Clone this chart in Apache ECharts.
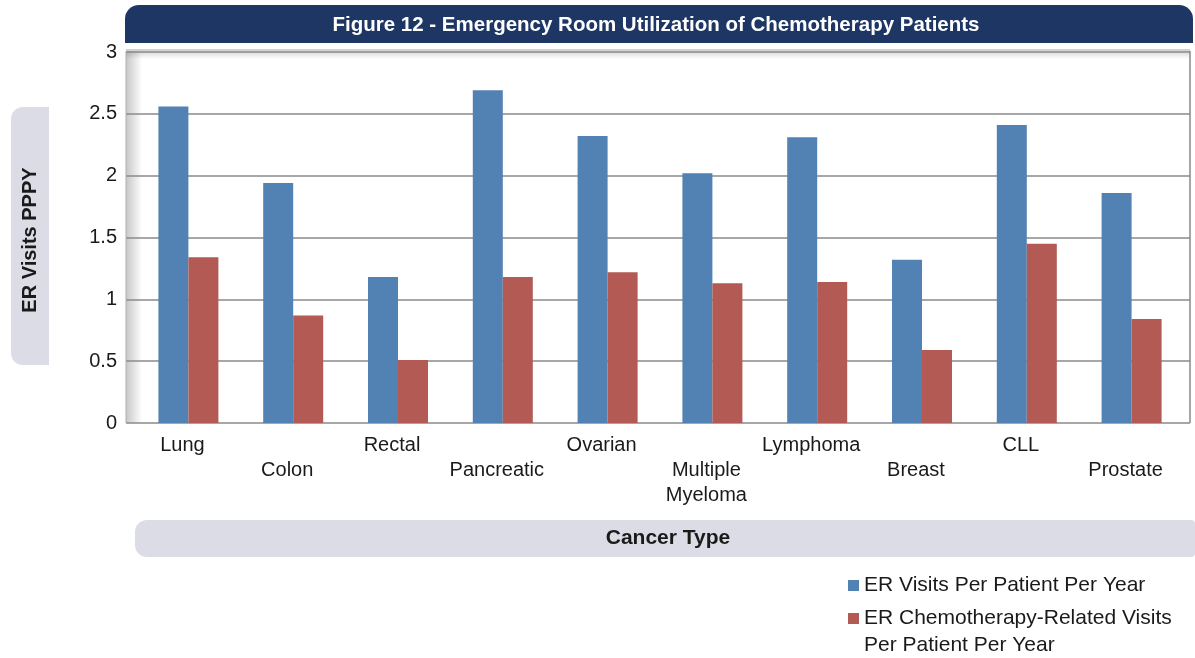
<!DOCTYPE html>
<html>
<head>
<meta charset="utf-8">
<script src="https://cdn.jsdelivr.net/npm/echarts@6/dist/echarts.min.js"></script>
<style>
  html, body { margin: 0; padding: 0; background: #fff; }
  #chart { width: 1195px; height: 658px; }
</style>
</head>
<body>
<div id="chart"></div>
<script>
const categories = ['Lung', 'Colon', 'Rectal', 'Pancreatic', 'Ovarian', 'Multiple Myeloma', 'Lymphoma', 'Breast', 'CLL', 'Prostate'];
const erVisits = [2.56, 1.94, 1.18, 2.69, 2.32, 2.02, 2.31, 1.32, 2.41, 1.86];
const chemoVisits = [1.34, 0.87, 0.51, 1.18, 1.22, 1.13, 1.14, 0.59, 1.45, 0.84];
const yTicks = [0, 0.5, 1, 1.5, 2, 2.5, 3];
const seriesNames = ['ER Visits Per Patient Per Year', 'ER Chemotherapy-Related Visits Per Patient Per Year'];

const font = '"Liberation Sans", Arial, sans-serif';
const blue = '#5282B3';
const red = '#B25A53';
const ink = '#1a1a1a';

const chart = echarts.init(document.getElementById('chart'));

chart.setOption({
  animation: false,
  textStyle: { fontFamily: font },
  graphic: [
    // title bar
    {
      type: 'rect', z: 0,
      shape: { x: 125, y: 5, width: 1068, height: 38, r: [14, 14, 0, 0] },
      style: { fill: '#1D3664' }
    },
    {
      type: 'text', z: 1, x: 656, y: 25,
      style: { text: 'Figure 12 - Emergency Room Utilization of Chemotherapy Patients', fill: '#fff',
        font: 'bold 20.5px ' + font, align: 'center', verticalAlign: 'middle' }
    },
    // plot area shading
    {
      type: 'rect', z: -1,
      shape: { x: 126, y: 51, width: 16, height: 372 },
      style: { fill: new echarts.graphic.LinearGradient(0, 0, 1, 0, [
        { offset: 0, color: 'rgba(0,0,0,0.22)' }, { offset: 1, color: 'rgba(0,0,0,0)' }]) }
    },
    {
      type: 'rect', z: -1,
      shape: { x: 126, y: 49, width: 1064, height: 10 },
      style: { fill: new echarts.graphic.LinearGradient(0, 0, 0, 1, [
        { offset: 0, color: 'rgba(0,0,0,0.2)' }, { offset: 1, color: 'rgba(0,0,0,0)' }]) }
    },
    {
      type: 'line', z: 1,
      shape: { x1: 1190, y1: 51, x2: 1190, y2: 423 },
      style: { stroke: '#8a8a8a', lineWidth: 1.5 }
    },
    {
      type: 'line', z: 1,
      shape: { x1: 126, y1: 51, x2: 126, y2: 423 },
      style: { stroke: '#b0b0b0', lineWidth: 1 }
    },
    // y axis name band
    {
      type: 'rect', z: 0,
      shape: { x: 11, y: 107, width: 38, height: 258, r: [12, 0, 0, 12] },
      style: { fill: '#DCDCE6' }
    },
    {
      type: 'text', z: 1, x: 30, y: 240, rotation: Math.PI / 2,
      style: { text: 'ER Visits PPPY', fill: ink, font: 'bold 20px ' + font,
        align: 'center', verticalAlign: 'middle' }
    },
    // x axis name band
    {
      type: 'rect', z: 0,
      shape: { x: 135, y: 520, width: 1060, height: 37, r: [12, 4, 4, 12] },
      style: { fill: '#DCDCE6' }
    },
    {
      type: 'text', z: 1, x: 668, y: 538,
      style: { text: 'Cancer Type', fill: ink, font: 'bold 21px ' + font,
        align: 'center', verticalAlign: 'middle' }
    },
    // second line of the red legend entry
    {
      type: 'text', z: 1, x: 864, y: 645,
      style: { text: 'Per Patient Per Year', fill: ink, font: '21px ' + font,
        align: 'left', verticalAlign: 'middle' }
    }
  ],
  legend: [
    {
      left: 848, top: 573, padding: 0,
      itemWidth: 11, itemHeight: 11, icon: 'rect',
      textStyle: { fontSize: 21, color: ink, lineHeight: 25 },
      data: [seriesNames[0]]
    },
    {
      left: 848, top: 606, padding: 0,
      itemWidth: 11, itemHeight: 11, icon: 'rect',
      textStyle: { fontSize: 21, color: ink, lineHeight: 25 },
      formatter: name => name.replace(' Per Patient Per Year', ''),
      data: [seriesNames[1]]
    }
  ],
  grid: [
    { left: 126, right: 5, top: 52, bottom: 235 },
    { left: 136, right: 11, top: 52, bottom: 235 }
  ],
  xAxis: [
    { gridIndex: 0, type: 'value', show: false, min: 0, max: 1 },
    {
      gridIndex: 1,
      type: 'category',
      data: categories,
      axisLine: { show: false },
      axisTick: { show: false },
      axisLabel: {
        interval: 0,
        margin: 10,
        fontSize: 20,
        lineHeight: 25,
        color: ink,
        padding: [0, 12, 0, 0],
        formatter: (v, i) => (i % 2 === 1 ? '\n' : '') + v.replace('Multiple Myeloma', 'Multiple\nMyeloma')
      }
    }
  ],
  yAxis: [
    {
      gridIndex: 0,
      type: 'value',
      min: 0, max: 3, interval: 0.5,
      axisLine: { show: false },
      axisTick: { show: false },
      axisLabel: { fontSize: 20, color: ink, margin: 9,
        formatter: v => yTicks.includes(v) ? String(v) : '' },
      splitLine: { lineStyle: { color: '#8a8a8a', width: 1.5 } }
    },
    { gridIndex: 1, type: 'value', min: 0, max: 3, show: false, splitLine: { show: false } }
  ],
  series: [
    {
      name: seriesNames[0],
      type: 'bar', xAxisIndex: 1, yAxisIndex: 1,
      data: erVisits, barWidth: 30, barGap: '0%',
      itemStyle: { color: blue }
    },
    {
      name: seriesNames[1],
      type: 'bar', xAxisIndex: 1, yAxisIndex: 1,
      data: chemoVisits, barWidth: 30, barGap: '0%',
      itemStyle: { color: red }
    }
  ]
});
</script>
</body>
</html>
